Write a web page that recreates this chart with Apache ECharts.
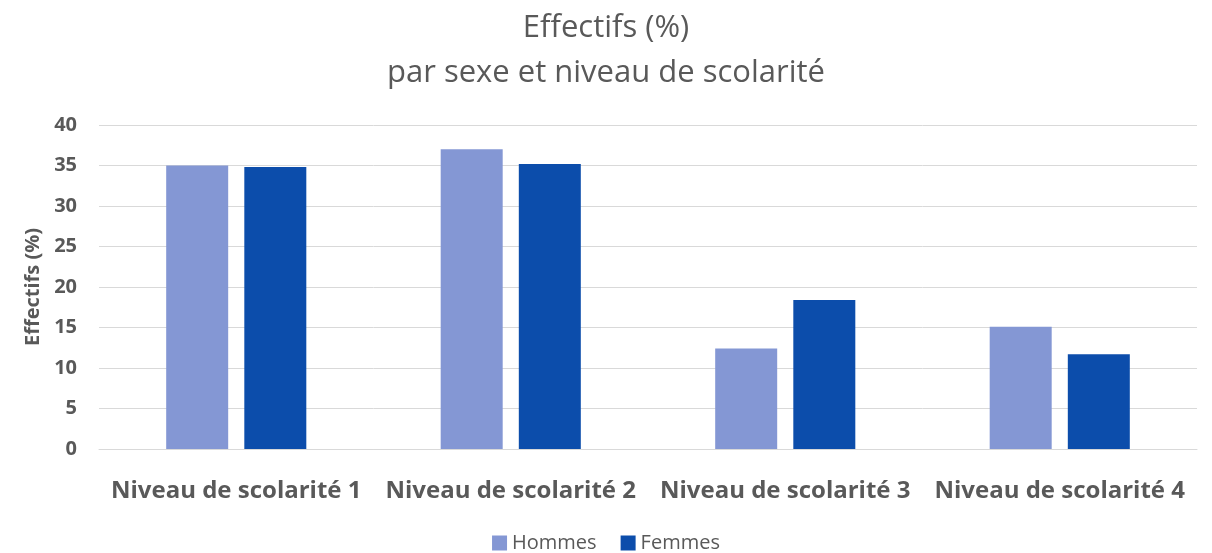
<!DOCTYPE html>
<html>
<head>
<meta charset="utf-8">
<script src="https://cdn.jsdelivr.net/npm/echarts@6/dist/echarts.min.js"></script>
<style>
  html, body { margin: 0; padding: 0; background: #fff; }
  #main { width: 1212px; height: 553px; }
</style>
</head>
<body>
<div id="main"></div>
<script>
	// données
	var niveaux = ['Niveau de scolarité 1', 'Niveau de scolarité 2', 'Niveau de scolarité 3', 'Niveau de scolarité 4'];
	var hommes = [35.0, 37.0, 12.4, 15.1];
	var femmes = [34.8, 35.2, 18.4, 11.7];
	var yTicks = [0, 5, 10, 15, 20, 25, 30, 35, 40];

	var chart = echarts.init(document.getElementById('main'));
	var fontFam = 'Open Sans, Noto Sans, sans-serif';
	var option = {
		title: {
			text: 'Effectifs (%)\npar sexe et niveau de scolarité',
			left: 'center',
			top: 1,
			textStyle: {
				color: '#595959',
				fontSize: 31,
				fontWeight: 'normal',
				fontFamily: fontFam,
				lineHeight: 45
			}
		},
		legend: {
			data: ['Hommes', 'Femmes'],
			bottom: -5,
			left: 'center',
			icon: 'rect',
			itemWidth: 15,
			itemHeight: 15,
			itemGap: 24,
			textStyle: { color: '#595959', fontSize: 20, fontFamily: fontFam }
		},
		grid: {
			left: 99,
			right: 15,
			top: 125,
			bottom: 104
		},
		xAxis: {
			type: 'category',
			data: niveaux,
			axisTick: { show: false },
			axisLine: { lineStyle: { color: '#d9d9d9', width: 1 } },
			axisLabel: {
				color: '#595959',
				fontSize: 24,
				fontWeight: 'bold',
				fontFamily: fontFam,
				margin: 30,
				interval: 0
			}
		},
		yAxis: {
			type: 'value',
			min: yTicks[0],
			max: yTicks[yTicks.length - 1],
			interval: 5,
			name: 'Effectifs (%)',
			nameLocation: 'middle',
			nameGap: 56,
			nameTextStyle: { color: '#595959', fontSize: 20, fontWeight: 'bold', fontFamily: fontFam },
			axisLine: { show: false },
			axisTick: { show: false },
			splitLine: { lineStyle: { color: '#d9d9d9', width: 1 } },
			axisLabel: {
				color: '#595959',
				fontSize: 20,
				fontWeight: 'bold',
				fontFamily: fontFam,
				margin: 22
			}
		},
		series: [
			{
				name: 'Hommes',
				type: 'bar',
				data: hommes,
				barWidth: 62,
				barGap: '26%',
				itemStyle: { color: '#8497d4' }
			},
			{
				name: 'Femmes',
				type: 'bar',
				data: femmes,
				barWidth: 62,
				itemStyle: { color: '#0c4dab' }
			}
		]
	};
	chart.setOption(option);
</script>
</body>
</html>
